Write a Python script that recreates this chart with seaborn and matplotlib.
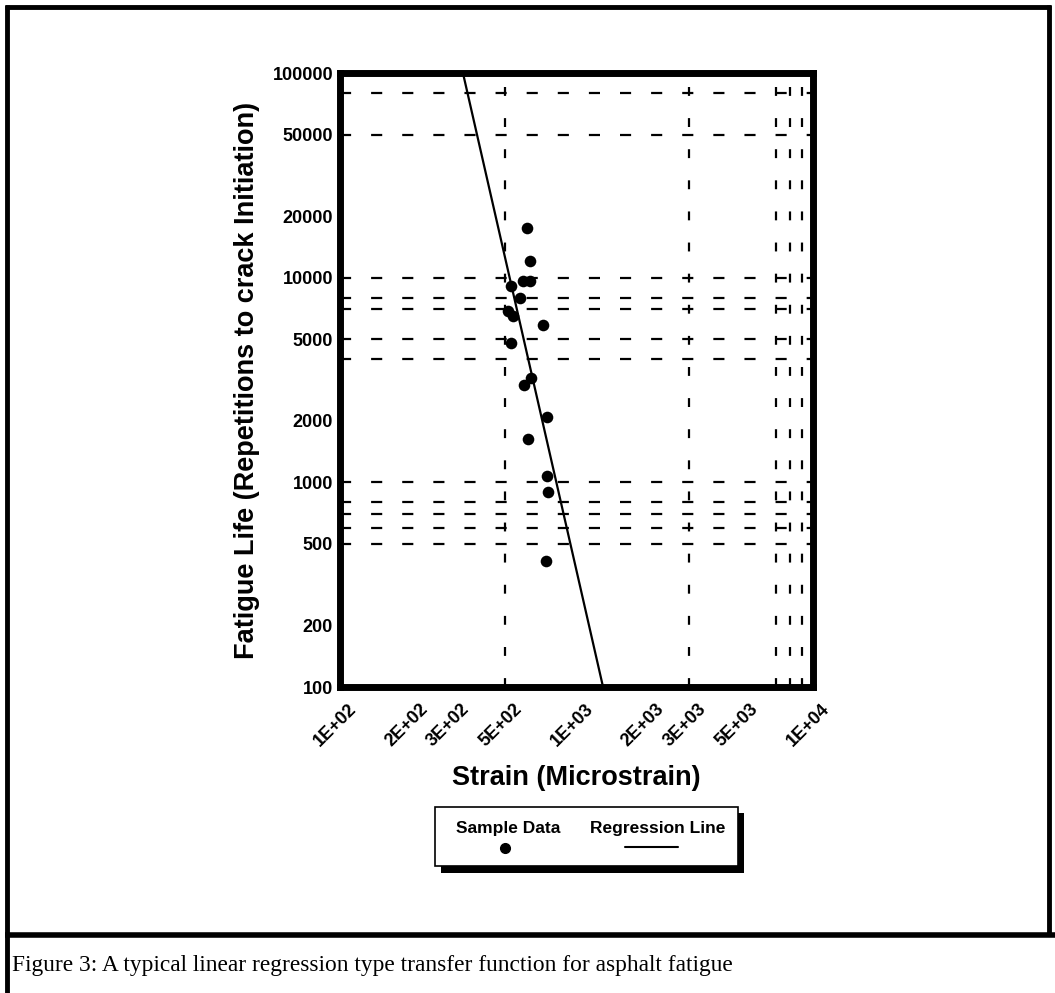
import matplotlib
matplotlib.use("Agg")
import matplotlib.pyplot as plt
import matplotlib.transforms as mtransforms
from matplotlib.lines import Line2D
from matplotlib.patches import Rectangle
from matplotlib.ticker import NullLocator, FixedLocator, FixedFormatter
import seaborn as sns
import pandas as pd

# ---------------- data ----------------
strain = [618, 636, 592, 636, 527, 577, 513, 539, 720, 528, 642, 601, 748, 625, 748, 755, 743]
cycles = [17400, 12100, 9660, 9660, 9100, 7940, 6860, 6480, 5850, 4780, 3220, 2980, 2090, 1630, 1070, 896, 412]

reg_strain = [331, 1295]
reg_cycles = [100000, 100]

x_ticks = [100, 200, 300, 500, 1000, 2000, 3000, 5000, 10000]
x_labels = ["1E+02", "2E+02", "3E+02", "5E+02", "1E+03", "2E+03", "3E+03", "5E+03", "1E+04"]
y_ticks = [100, 200, 500, 1000, 2000, 5000, 10000, 20000, 50000, 100000]
y_labels = ["100", "200", "500", "1000", "2000", "5000", "10000", "20000", "50000", "100000"]

h_grid = [80000, 50000, 10000, 8000, 7000, 5000, 4000, 1000, 800, 700, 600, 500]
v_grid = [500, 3000, 7000, 8000, 9000]

x_title = "Strain (Microstrain)"
y_title = "Fatigue Life (Repetitions to crack Initiation)"
legend_labels = ["Sample Data", "Regression Line"]
caption = "Figure 3: A typical linear regression type transfer function for asphalt fatigue"

# ---------------- style ----------------
sns.set_style("white")
plt.rcParams['font.family'] = ['Liberation Sans', 'DejaVu Sans']
plt.rcParams['text.color'] = 'black'
plt.rcParams['xtick.color'] = 'black'
plt.rcParams['ytick.color'] = 'black'
plt.rcParams['axes.labelcolor'] = 'black'

W, H = 1055, 993
fig = plt.figure(figsize=(W / 100, H / 100), dpi=100)
fig.patch.set_facecolor("white")

def fx(px):
    return px / W

def fy(py):
    return 1 - py / H

ax = fig.add_axes([fx(340), fy(687), (813 - 340) / W, (687 - 73) / H])
ax.set_xscale('log')
ax.set_yscale('log')

df = pd.DataFrame({"strain": strain, "cycles": cycles})
reg = pd.DataFrame({"strain": reg_strain, "cycles": reg_cycles})

for yv in h_grid:
    ax.axhline(yv, color='black', lw=1.6, ls=(0, (5, 9)), zorder=1)
for xv in v_grid:
    ax.axvline(xv, color='black', lw=1.6, ls=(0, (4, 10)), zorder=1)

sns.lineplot(data=reg, x="strain", y="cycles", color='black', lw=1.6, ax=ax, zorder=3)
sns.scatterplot(data=df, x="strain", y="cycles", color='black', s=70, marker='o',
                edgecolor='black', linewidth=0, ax=ax, zorder=4)

ax.set_xlim(100, 10000)
ax.set_ylim(100, 100000)

ax.xaxis.set_major_locator(FixedLocator(x_ticks))
ax.xaxis.set_major_formatter(FixedFormatter(x_labels))
ax.xaxis.set_minor_locator(NullLocator())
ax.yaxis.set_major_locator(FixedLocator(y_ticks))
ax.yaxis.set_major_formatter(FixedFormatter(y_labels))
ax.yaxis.set_minor_locator(NullLocator())

ax.tick_params(axis='both', length=0, colors='black')
ax.tick_params(axis='y', pad=5, labelsize=13)
ax.tick_params(axis='x', pad=10, labelsize=13)
for lab in ax.get_yticklabels():
    lab.set_fontweight('bold')
shift = mtransforms.ScaledTranslation(8 / 100, 0, fig.dpi_scale_trans)
for lab in ax.get_xticklabels():
    lab.set_fontweight('bold')
    lab.set_rotation(45)
    lab.set_ha('right')
    lab.set_va('top')
    lab.set_rotation_mode('anchor')
    lab.set_transform(lab.get_transform() + shift)

for s in ax.spines.values():
    s.set_visible(True)
    s.set_color('black')
    s.set_linewidth(5)
    s.set_zorder(5)

ax.set_xlabel("")
ax.set_ylabel("")
fig.text(fx(576), fy(778), x_title, ha='center', va='center', fontsize=19.5, fontweight='bold')
fig.text(fx(247), fy(380), y_title, ha='center', va='center', rotation=90,
         fontsize=19.5, fontweight='bold')

# ---------------- legend (custom box with shadow) ----------------
fig.patches.append(Rectangle((fx(441), fy(873)), (744 - 441) / W, (873 - 813) / H,
                             transform=fig.transFigure, facecolor='black', edgecolor='none', zorder=1))
fig.patches.append(Rectangle((fx(435), fy(866)), (738 - 435) / W, (866 - 807) / H,
                             transform=fig.transFigure, facecolor='white', edgecolor='black',
                             lw=1.2, zorder=2))
fig.text(fx(508), fy(828), legend_labels[0], ha='center', va='center', fontsize=12.5,
         fontweight='bold', zorder=3)
fig.text(fx(658), fy(828), legend_labels[1], ha='center', va='center', fontsize=12.5,
         fontweight='bold', zorder=3)
fig.add_artist(Line2D([fx(505)], [fy(848)], marker='o', markersize=7, color='black',
                      linestyle='none', transform=fig.transFigure, zorder=3))
fig.add_artist(Line2D([fx(625), fx(678)], [fy(847), fy(847)], color='black', lw=1.5,
                      transform=fig.transFigure, zorder=3))

# ---------------- outer frame ----------------
blw = 3.5
kw = dict(color='black', transform=fig.transFigure, solid_capstyle='butt')
fig.add_artist(Line2D([fx(7), fx(7)], [fy(5), fy(993)], lw=blw, **kw))
fig.add_artist(Line2D([fx(5), fx(1051)], [fy(7), fy(7)], lw=blw, **kw))
fig.add_artist(Line2D([fx(1049), fx(1049)], [fy(5), fy(935)], lw=blw, **kw))
fig.add_artist(Line2D([fx(5), fx(1055)], [fy(935), fy(935)], lw=blw + 0.5, **kw))

fig.text(fx(12), fy(966), caption, ha='left', va='center', fontsize=16.8,
         family=['Liberation Serif', 'DejaVu Serif'])

fig.savefig("out.png", dpi=100, facecolor='white')
